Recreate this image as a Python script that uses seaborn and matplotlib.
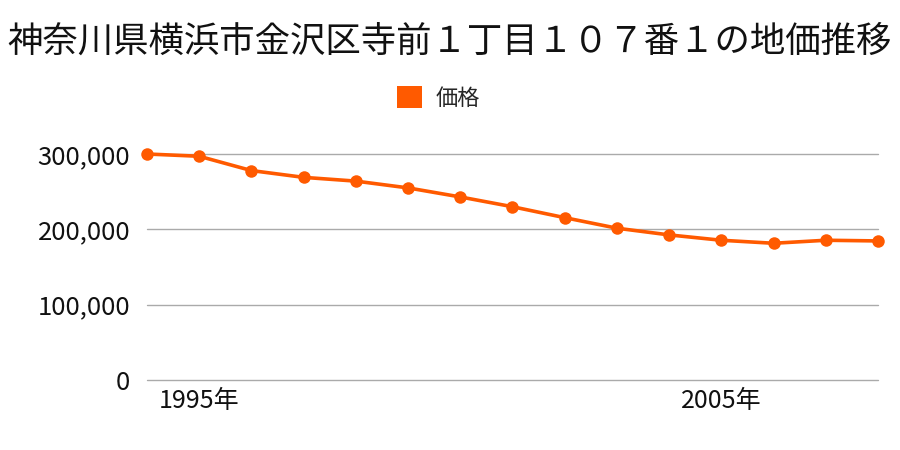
import matplotlib
matplotlib.use("Agg")
import matplotlib.pyplot as plt
import seaborn as sns
import pandas as pd
from matplotlib.patches import Patch
from matplotlib.ticker import FuncFormatter

years = [1994, 1995, 1996, 1997, 1998, 1999, 2000, 2001, 2002, 2003, 2004, 2005, 2006, 2007, 2008]
prices = [300000, 297000, 278000, 269000, 264000, 255000, 243000, 230000, 215500, 201500, 192600, 185500, 181500, 185500, 184600]
xtick_years = [1995, 2005]
xtick_labels = ["1995年", "2005年"]
yticks = [0, 100000, 200000, 300000]
title = "神奈川県横浜市金沢区寺前１丁目１０７番１の地価推移"
series_name = "価格"
color = "#ff5a00"

sns.set_theme(style="white")
plt.rcParams["font.family"] = ["Noto Sans CJK JP", "DejaVu Sans"]

df = pd.DataFrame({"year": years, "price": prices})

fig = plt.figure(figsize=(9, 4.5), dpi=100)
ax = fig.add_axes([147/900, 1-380/450, (878-147)/900, (380-154)/450])

sns.lineplot(data=df, x="year", y="price", ax=ax, color=color, linewidth=2.6,
             marker="o", markersize=9, markeredgewidth=0, clip_on=False, zorder=3)

ax.set_xlim(1994, 2008)
ax.set_ylim(0, 300000)
ax.set_yticks(yticks)
ax.yaxis.set_major_formatter(FuncFormatter(lambda v, p: f"{int(v):,}"))
ax.set_xticks(xtick_years)
ax.set_xticklabels(xtick_labels)
ax.tick_params(axis="y", length=0, labelsize=18.5, colors="#111111", pad=12)
ax.tick_params(axis="x", length=0, labelsize=18, colors="#111111", pad=6)
ax.grid(axis="y", color="#aaaaaa", linewidth=1)
ax.grid(axis="x", visible=False)
for gl in ax.get_ygridlines():
    gl.set_clip_on(False)
for s in ax.spines.values():
    s.set_visible(False)
ax.set_xlabel("")
ax.set_ylabel("")

fig.suptitle(title, x=0.5, y=1-42/450, va="center", fontsize=25.5, color="#111111")
fig.legend(handles=[Patch(facecolor=color, edgecolor="none", label=series_name)],
           loc="center", bbox_to_anchor=(438.5/900, 1-98/450), frameon=False,
           fontsize=16, handlelength=1.1, handleheight=1.1, handletextpad=0.6)

fig.savefig("out.png", dpi=100)
